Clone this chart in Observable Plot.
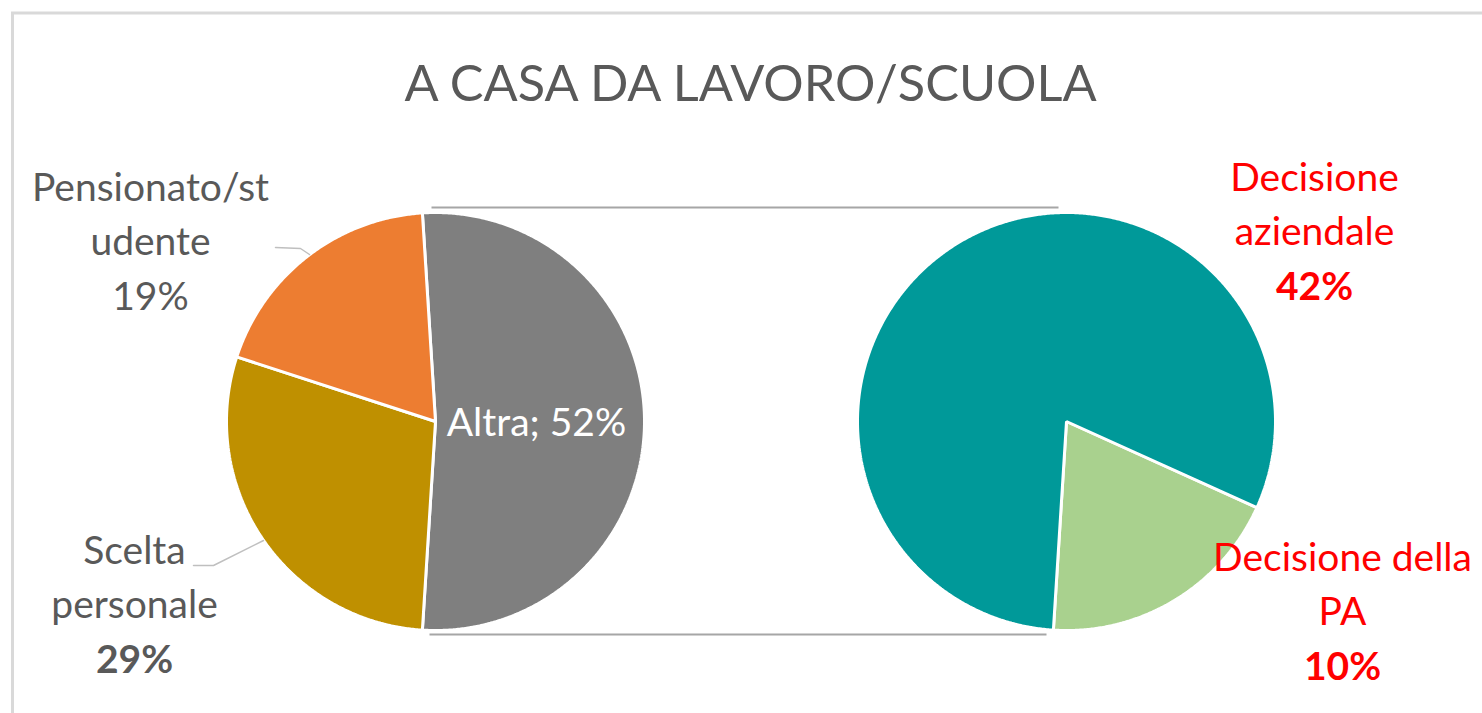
<!DOCTYPE html>
<html>
<head>
<meta charset="utf-8">
<script src="https://cdn.jsdelivr.net/npm/d3@7"></script>
<script src="https://cdn.jsdelivr.net/npm/@observablehq/plot@0.6"></script>
<style>
  html, body { margin: 0; padding: 0; background: #fff; }
  svg { display: block; }
</style>
</head>
<body>
<div id="chart"></div>
<script>
// ---------- DATA ----------
const chartTitle = "A CASA DA LAVORO/SCUOLA";

// main pie (clockwise from the split slice)
const mainCategories = ["Altra", "Scelta personale", "Pensionato/studente"];
const mainValues = [52, 29, 19];
const mainColors = ["#7F7F7F", "#BF9000", "#ED7D31"];
const mainLabelLines = [["Altra;"], ["Scelta", "personale"], ["Pensionato/st", "udente"]];

// secondary pie: breakdown of "Altra"
const subCategories = ["Decisione della PA", "Decisione aziendale"];
const subValues = [10, 42];
const subColors = ["#A9D18E", "#009999"];
const subLabelLines = [["Decisione della", "PA"], ["Decisione", "aziendale"]];

// ---------- LAYOUT ----------
const W = 1482, H = 713;
const R = 209;
const mainC = {cx: 435, cy: 421};
const subC = {cx: 1066, cy: 421};
const toRad = Math.PI / 180;

const mainTotal = d3.sum(mainValues);
const splitShare = mainValues[0] / mainTotal;
// split slice centered at 3 o'clock
const mainStart = Math.PI / 2 - splitShare * Math.PI;
const mainArcs = d3.pie().sort(null).startAngle(mainStart).endAngle(mainStart + 2 * Math.PI)(mainValues);

const subTotal = d3.sum(subValues);
const subEndFirst = Math.PI - mainStart;
const subStart = subEndFirst - (subValues[0] / subTotal) * 2 * Math.PI;
const subArcs = d3.pie().sort(null).startAngle(subStart).endAngle(subStart + 2 * Math.PI)(subValues);

function slicePoints(arcs, center, colors, prefix) {
  const pts = [];
  arcs.forEach((a, i) => {
    const key = prefix + i;
    pts.push({key, color: colors[i], x: center.cx, y: center.cy});
    const n = Math.max(2, Math.ceil((a.endAngle - a.startAngle) / (0.4 * toRad)));
    for (let k = 0; k <= n; k++) {
      const t = a.startAngle + (a.endAngle - a.startAngle) * k / n;
      pts.push({key, color: colors[i], x: center.cx + R * Math.sin(t), y: center.cy - R * Math.cos(t)});
    }
  });
  return pts;
}
const slices = [
  ...slicePoints(mainArcs, mainC, mainColors, "m"),
  ...slicePoints(subArcs, subC, subColors, "s")
];

// label anchors (center x, baseline of first line)
const step = 54.5;
const mainLabelPos = [
  {x: 536, y: 435, fill: "#FFFFFF", inline: true, bold: false},
  {x: 134, y: 563, fill: "#595959", bold: true},
  {x: 150, y: 200, fill: "#595959", bold: false}
];
const subLabelPos = [
  {x: 1342, y: 570, fill: "#FF0000", bold: true},
  {x: 1314, y: 190, fill: "#FF0000", bold: true}
];

const labelRows = [];
function addLabels(lines, values, pos) {
  values.forEach((v, i) => {
    const p = pos[i];
    const pct = `${v}%`;
    if (p.inline) {
      labelRows.push({x: p.x, y: p.y, text: lines[i].join(" ") + " " + pct, fill: p.fill, bold: false});
      return;
    }
    lines[i].forEach((t, j) => labelRows.push({x: p.x, y: p.y + j * step, text: t, fill: p.fill, bold: false}));
    labelRows.push({x: p.x, y: p.y + lines[i].length * step, text: pct, fill: p.fill, bold: p.bold});
  });
}
addLabels(mainLabelLines, mainValues, mainLabelPos);
addLabels(subLabelLines, subValues, subLabelPos);

// leader lines
const leaders = [
  {key: "p", x: 275, y: 247}, {key: "p", x: 300, y: 248}, {key: "p", x: 309, y: 254},
  {key: "s", x: 193, y: 565}, {key: "s", x: 213, y: 565}, {key: "s", x: 263, y: 540}
];

// connector lines between pies
const connectors = [
  {x1: mainC.cx - 4, x2: subC.cx - 8, y: mainC.cy - R - 5},
  {x1: mainC.cx - 6, x2: subC.cx - 20, y: mainC.cy + R + 4}
];

const font = "Lato, 'Open Sans', sans-serif";

const chart = Plot.plot({
  width: W,
  height: H,
  margin: 0,
  x: {domain: [0, W], range: [0, W], axis: null},
  y: {domain: [0, H], range: [0, H], axis: null},
  color: {type: "identity"},
  style: {fontFamily: font, background: "#fff"},
  marks: [
    Plot.ruleX([12], {y1: 12, y2: H + 5, stroke: "#D9D9D9", strokeWidth: 3}),
    Plot.ruleY([12.5], {x1: 11, x2: W + 5, stroke: "#D9D9D9", strokeWidth: 3}),
    Plot.link(connectors, {x1: "x1", x2: "x2", y1: "y", y2: "y", stroke: "#A6A6A6", strokeWidth: 2}),
    Plot.line(slices, {x: "x", y: "y", z: "key", fill: "color", stroke: "#FFFFFF", strokeWidth: 3, curve: "linear-closed", strokeLinejoin: "miter"}),
    Plot.line(leaders, {x: "x", y: "y", z: "key", stroke: "#BFBFBF", strokeWidth: 1.5}),
    Plot.text([chartTitle], {x: 750, y: 100, text: d => d, fontSize: 50.5, fill: "#595959", lineAnchor: "bottom", fontFamily: font}),
    Plot.text(labelRows.filter(d => !d.bold), {x: "x", y: "y", text: "text", fill: "fill", fontSize: 39, lineAnchor: "bottom", fontFamily: font}),
    Plot.text(labelRows.filter(d => d.bold), {x: "x", y: "y", text: "text", fill: "fill", fontSize: 39, fontWeight: "bold", lineAnchor: "bottom", fontFamily: font})
  ]
});
document.getElementById("chart").appendChild(chart);
</script>
</body>
</html>
